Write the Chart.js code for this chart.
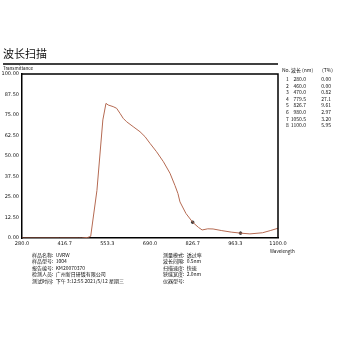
<!DOCTYPE html>
<html>
<head>
<meta charset="utf-8">
<script src="https://cdn.jsdelivr.net/npm/chart.js@4"></script>
<style>
  body { margin: 0; background: #fff; }
  canvas { display: block; }
</style>
</head>
<body>
<canvas id="scanChart" width="340" height="340"></canvas>
<script>
// spectrum
var wavelengths = [280, 400, 460, 470, 490, 500, 520, 539, 549, 556, 572, 583, 594, 604, 615, 636, 658, 674, 690, 711, 733, 754, 770, 779.5, 786, 805, 826.7, 845, 857, 875, 892, 920, 950, 980, 1010, 1050.5, 1075, 1100];
var transmittance = [0, 0, 0, 0, 0.3, 1, 29, 72, 82.1, 81.1, 80.1, 79.1, 76, 73, 70.9, 67.9, 64.8, 61.8, 57.7, 52.6, 46.5, 39.5, 32, 27.1, 22, 15, 9.61, 6.5, 4.9, 5.6, 5.5, 4.5, 3.6, 2.97, 2.5, 3.2, 4.5, 5.95];

// marked points (table rows)
var tableNo = ['1', '2', '3', '4', '5', '6', '7', '8'];
var tableWl = ['280.0', '460.0', '470.0', '779.5', '826.7', '980.0', '1050.5', '1100.0'];
var tableT = ['0.00', '0.00', '0.82', '27.1', '9.61', '2.97', '3.20', '5.95'];
var markerWl = [826.7, 980.0];
var markerT = [9.61, 2.97];

var xTicks = [280.0, 416.7, 553.3, 690.0, 826.7, 963.3, 1100.0];
var yTicks = [0, 12.5, 25, 37.5, 50, 62.5, 75, 87.5, 100];

var infoLeft = ['样品名称:  UVRW', '样品型号:  1004', '报告编号:  KM20070370', '检测人员:  广州新日研镀有限公司', '测试时间:  下午 3:12:55 2021/5/12 星期三'];
var infoRight = ['测量模式:  透过率', '波长间隔:  0.5nm', '扫描速度:  快速', '狭缝宽度:  2.0nm', '仪器型号:'];

var cjk = '"Noto Sans CJK SC", "DejaVu Sans", sans-serif';

var lineData = wavelengths.map(function (w, i) { return { x: w, y: transmittance[i] }; });
var markerData = markerWl.map(function (w, i) { return { x: w, y: markerT[i] }; });

var decorations = {
    id: 'decorations',
    afterDraw: function (chart) {
        var ctx = chart.ctx;
        var a = chart.chartArea;
        ctx.save();
        ctx.fillStyle = '#111';
        ctx.textBaseline = 'middle';

        // title + rule
        ctx.font = '11px ' + cjk;
        ctx.fillText('波长扫描', 3, 54);
        ctx.strokeStyle = '#000';
        ctx.lineWidth = 1.5;
        ctx.beginPath();
        ctx.moveTo(3, 64);
        ctx.lineTo(a.right, 64);
        ctx.stroke();

        ctx.font = '4.5px ' + cjk;
        ctx.fillText('Transmittance', 3, 68.5);

        // top and right frame
        ctx.beginPath();
        ctx.moveTo(a.left, a.top);
        ctx.lineTo(a.right, a.top);
        ctx.lineTo(a.right, a.bottom);
        ctx.stroke();

        ctx.font = '4.5px ' + cjk;
        ctx.fillText('Wavelength', 270, 251);

        // table
        ctx.font = '5px ' + cjk;
        ctx.fillText('No.', 282, 70);
        ctx.fillText('波长 (nm)', 291, 70);
        ctx.fillText('(T%)', 322, 70);
        for (var i = 0; i < tableNo.length; i++) {
            var y = 79 + i * 6.6;
            ctx.textAlign = 'left';
            ctx.fillText(tableNo[i], 286, y);
            ctx.textAlign = 'right';
            ctx.fillText(tableWl[i], 306, y);
            ctx.fillText(tableT[i], 331, y);
        }

        // info block
        ctx.textAlign = 'left';
        for (var j = 0; j < infoLeft.length; j++) {
            var yy = 255 + j * 6.4;
            ctx.fillText(infoLeft[j], 32, yy);
            ctx.fillText(infoRight[j], 163, yy);
        }
        ctx.restore();
    }
};

var scanChart = new Chart(document.getElementById('scanChart').getContext('2d'), {
    type: 'line',
    data: {
        datasets: [{
            data: lineData,
            borderColor: '#b56a52',
            borderWidth: 1,
            pointRadius: 0,
            tension: 0
        }, {
            type: 'scatter',
            data: markerData,
            backgroundColor: '#333',
            borderColor: '#333',
            pointRadius: 1.3
        }]
    },
    plugins: [decorations],
    options: {
        responsive: false,
        animation: false,
        events: [],
        layout: { padding: { top: 74, right: 62, bottom: 0, left: 0 } },
        plugins: { legend: { display: false }, tooltip: { enabled: false } },
        scales: {
            x: {
                type: 'linear',
                min: 280,
                max: 1100,
                afterFit: function (s) { s.height = 102; },
                afterBuildTicks: function (s) { s.ticks = xTicks.map(function (v) { return { value: v }; }); },
                grid: { display: false, tickLength: 0 },
                border: { color: '#000', width: 1.5 },
                ticks: {
                    color: '#111',
                    font: { size: 5, family: 'DejaVu Sans' },
                    padding: 3,
                    maxRotation: 0,
                    callback: function (v) { return Number(v).toFixed(1); }
                }
            },
            y: {
                min: 0,
                max: 100,
                afterFit: function (s) { s.width = 22; },
                afterBuildTicks: function (s) { s.ticks = yTicks.map(function (v) { return { value: v }; }); },
                grid: { display: false, tickLength: 0 },
                border: { color: '#000', width: 1.5 },
                ticks: {
                    color: '#111',
                    padding: 3,
                    font: { size: 5, family: 'DejaVu Sans' },
                    callback: function (v) { return Number(v).toFixed(2); }
                }
            }
        }
    }
});
</script>
</body>
</html>
